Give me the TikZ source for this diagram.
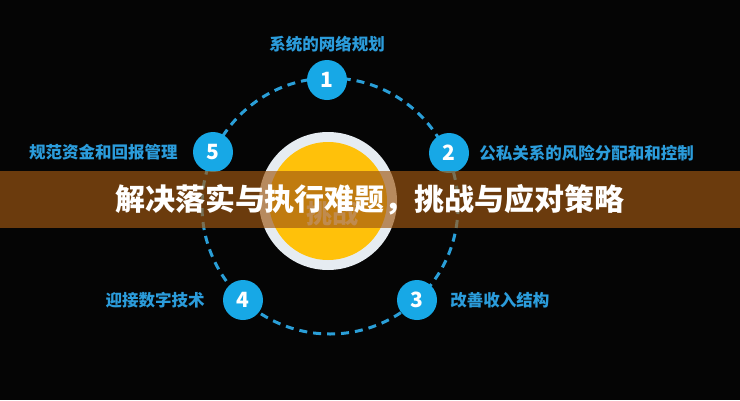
\documentclass[tikz,border=0pt]{standalone}
\usepackage{fontspec}
\newfontfamily\cjk{Noto Sans CJK SC}
\usepackage{tikz}
\usetikzlibrary{positioning}
\usepackage{xcolor}
\definecolor{bgblack}{HTML}{050505}
\definecolor{ringblue}{HTML}{2A9FD8}
\definecolor{dotblue}{HTML}{17A8E6}
\definecolor{textblue}{HTML}{2B9CDB}
\definecolor{ringgray}{HTML}{E6ECF1}
\definecolor{sunyellow}{HTML}{FFC10A}
\definecolor{bannerbrown}{RGB}{160,88,18}

\tikzset{
  stepdot/.style={circle, fill=dotblue, minimum size=40pt, inner sep=0pt,
    text=white, font=\cjk\bfseries\fontsize{21}{24}\selectfont},
  steplabel/.style={text=textblue, inner sep=0pt,
    font=\cjk\bfseries\fontsize{16.5}{19}\selectfont},
}

\begin{document}
\begin{tikzpicture}[x=1pt,y=-1pt]
  % background
  \fill[bgblack] (0,0) rectangle (740,400);
  \useasboundingbox (0,0) rectangle (740,400);

  % centre disc
  \coordinate (c) at (330,206);
  \fill[ringgray] (328,201) circle (69);
  \fill[sunyellow] (328,201) circle (59);
  \node[text=white!75!sunyellow, font=\cjk\bfseries\fontsize{26}{28}\selectfont]
    (core) at (332,214) {挑战};

  % dashed ring
  \draw[ringblue, line width=3pt, dash pattern=on 8pt off 6pt] (c) circle (128);

  % numbered steps
  \node[stepdot] (n1) at (327,80) {1};
  \node[stepdot] (n2) at (449,153) {2};
  \node[stepdot] (n3) at (417,300) {3};
  \node[stepdot] (n4) at (243,300) {4};
  \node[stepdot] (n5) at (213,152) {5};

  % step labels
  \node[steplabel, above=7pt of n1] (t1) {系统的网络规划};
  \node[steplabel, right=10pt of n2] (t2) {公私关系的风险分配和和控制};
  \node[steplabel, right=13pt of n3] (t3) {改善收入结构};
  \node[steplabel, left=18pt of n4] (t4) {迎接数字技术};
  \node[steplabel, left=15pt of n5] (t5) {规范资金和回报管理};

  % title banner
  \fill[bannerbrown, opacity=0.66] (0,171) rectangle (740,228);
  \node[text=white, font=\cjk\bfseries\fontsize{30}{32}\selectfont]
    (title) at (370,200) {解决落实与执行难题，挑战与应对策略};
\end{tikzpicture}
\end{document}
